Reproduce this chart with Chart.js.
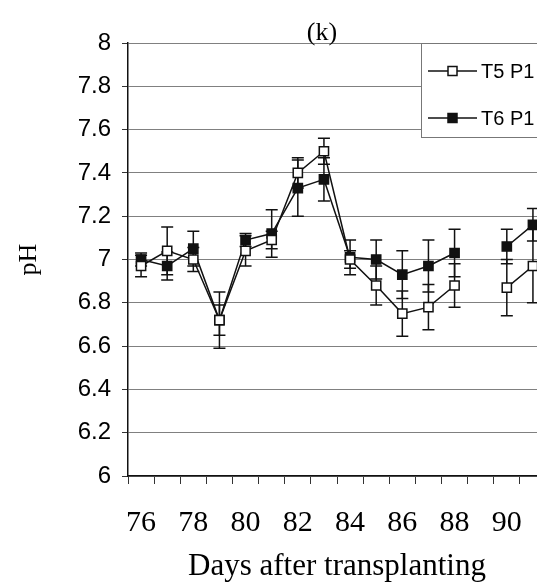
<!DOCTYPE html>
<html>
<head>
<meta charset="utf-8">
<title>pH (k)</title>
<script src="https://cdn.jsdelivr.net/npm/chart.js@4.4.1/dist/chart.umd.min.js"></script>
<style>
    html, body { margin: 0; padding: 0; background: #fff; overflow: hidden; }
    #phChart { display: block; }
</style>
</head>
<body>
<canvas id="phChart" width="560" height="586"></canvas>
<script>
// Days after transplanting (day 89 has no reading)
const days = ['76', '77', '78', '79', '80', '81', '82', '83', '84', '85', '86', '87', '88', '89', '90', '91'];

const t5Values = [6.97, 7.04, 7.00, 6.72, 7.04, 7.09, 7.40, 7.50, 7.00, 6.88, 6.75, 6.78, 6.88, null, 6.87, 6.97];
const t6Values = [7.00, 6.97, 7.05, 6.72, 7.09, 7.12, 7.33, 7.37, 7.01, 7.00, 6.93, 6.97, 7.03, null, 7.06, 7.16];

// Standard deviations for the error bars
const t5Err = [0.05, 0.11, 0.055, 0.07, 0.07, 0.04, 0.07, 0.06, 0.04, 0.09, 0.105, 0.105, 0.10, null, 0.13, 0.17];
const t6Err = [0.03, 0.065, 0.08, 0.13, 0.03, 0.11, 0.13, 0.10, 0.08, 0.09, 0.11, 0.12, 0.11, null, 0.08, 0.075];

const yTicks = [6, 6.2, 6.4, 6.6, 6.8, 7, 7.2, 7.4, 7.6, 7.8, 8];

const seriesNames = ['T5 P1', 'T6 P1'];

const SANS = "'Liberation Sans', Arial, sans-serif";
const SERIF = "'Liberation Serif', 'Times New Roman', serif";

// Vertical error bars with caps, drawn under the markers
const errorBars = {
    id: 'errorBars',
    beforeDatasetsDraw(chart) {
        const ctx = chart.ctx;
        const y = chart.scales.y;
        ctx.save();
        ctx.strokeStyle = '#111';
        ctx.lineWidth = 1.5;
        chart.data.datasets.forEach((ds, i) => {
            const meta = chart.getDatasetMeta(i);
            meta.data.forEach((pt, j) => {
                const v = ds.data[j];
                const e = ds.errors[j];
                if (v === null || e === null) return;
                const top = y.getPixelForValue(v + e);
                const bottom = y.getPixelForValue(v - e);
                ctx.beginPath();
                ctx.moveTo(pt.x, top);
                ctx.lineTo(pt.x, bottom);
                ctx.moveTo(pt.x - 6, top);
                ctx.lineTo(pt.x + 6, top);
                ctx.moveTo(pt.x - 6, bottom);
                ctx.lineTo(pt.x + 6, bottom);
                ctx.stroke();
            });
        });
        ctx.restore();
    }
};

// Panel letter and the boxed legend in the upper right corner
const decorations = {
    id: 'decorations',
    afterDraw(chart) {
        const ctx = chart.ctx;
        const area = chart.chartArea;
        ctx.save();

        ctx.fillStyle = '#000';
        ctx.font = '26px ' + SERIF;
        ctx.textAlign = 'center';
        ctx.textBaseline = 'alphabetic';
        ctx.fillText('(k)', 322, 40);

        const boxLeft = 421;
        const boxBottom = 137;
        ctx.fillStyle = '#fff';
        ctx.fillRect(boxLeft, area.top, chart.width - boxLeft, boxBottom - area.top);
        ctx.strokeStyle = '#777';
        ctx.lineWidth = 1;
        ctx.strokeRect(boxLeft + 0.5, area.top + 0.5, chart.width, boxBottom - area.top);

        const rows = [71, 118];
        chart.data.datasets.forEach((ds, i) => {
            const cy = rows[i];
            ctx.strokeStyle = '#111';
            ctx.lineWidth = 1.5;
            ctx.beginPath();
            ctx.moveTo(428, cy);
            ctx.lineTo(477, cy);
            ctx.stroke();
            ctx.fillStyle = ds.pointBackgroundColor;
            ctx.fillRect(448, cy - 4.5, 9, 9);
            ctx.strokeRect(448, cy - 4.5, 9, 9);

            ctx.fillStyle = '#000';
            ctx.font = '20px ' + SANS;
            ctx.textAlign = 'left';
            ctx.textBaseline = 'middle';
            ctx.fillText(seriesNames[i], 481, cy + 1);
        });
        ctx.restore();
    }
};

new Chart(document.getElementById('phChart'), {
    type: 'line',
    data: {
        labels: days,
        datasets: [
            {
                label: seriesNames[0],
                data: t5Values,
                errors: t5Err,
                borderColor: '#111',
                borderWidth: 1.5,
                pointStyle: 'rect',
                pointRadius: 6.5,
                pointBorderWidth: 1.5,
                pointBorderColor: '#111',
                pointBackgroundColor: '#fff',
                spanGaps: false,
                tension: 0
            },
            {
                label: seriesNames[1],
                data: t6Values,
                errors: t6Err,
                borderColor: '#111',
                borderWidth: 1.5,
                pointStyle: 'rect',
                pointRadius: 6.5,
                pointBorderWidth: 1.5,
                pointBorderColor: '#111',
                pointBackgroundColor: '#111',
                spanGaps: false,
                tension: 0
            }
        ]
    },
    options: {
        responsive: false,
        animation: false,
        devicePixelRatio: 1,
        layout: { padding: { left: 0, top: 43, right: 14, bottom: 0 } },
        plugins: {
            legend: { display: false },
            tooltip: { enabled: false }
        },
        scales: {
            x: {
                type: 'category',
                offset: true,
                afterFit: (scale) => { scale.height = 110; },
                grid: {
                    offset: true,
                    drawOnChartArea: false,
                    drawTicks: true,
                    tickLength: 8,
                    tickColor: '#333'
                },
                border: { color: '#111', width: 1.5 },
                ticks: {
                    autoSkip: false,
                    maxRotation: 0,
                    padding: 21,
                    color: '#000',
                    font: { family: SERIF, size: 30 },
                    callback: function (value) {
                        const label = this.getLabelForValue(value);
                        return (Number(label) % 2 === 0) ? label : '';
                    }
                },
                title: {
                    display: true,
                    text: 'Days after transplanting',
                    color: '#000',
                    font: { family: SERIF, size: 31 },
                    padding: { top: 0, bottom: 1 }
                }
            },
            y: {
                min: yTicks[0],
                max: yTicks[yTicks.length - 1],
                afterFit: (scale) => { scale.width = 128; },
                afterBuildTicks: (scale) => {
                    scale.ticks = yTicks.map(v => ({ value: v }));
                },
                grid: {
                    color: '#808080',
                    lineWidth: 1,
                    drawTicks: true,
                    tickLength: 6,
                    tickColor: '#333'
                },
                border: { color: '#111', width: 1.5 },
                ticks: {
                    padding: 11,
                    color: '#000',
                    font: { family: SANS, size: 24 },
                    callback: (value) => String(Math.round(value * 10) / 10)
                },
                title: {
                    display: true,
                    text: 'pH',
                    color: '#000',
                    font: { family: SERIF, size: 26 },
                    padding: { top: 14, bottom: 0 }
                }
            }
        }
    },
    plugins: [errorBars, decorations]
});
</script>
</body>
</html>
